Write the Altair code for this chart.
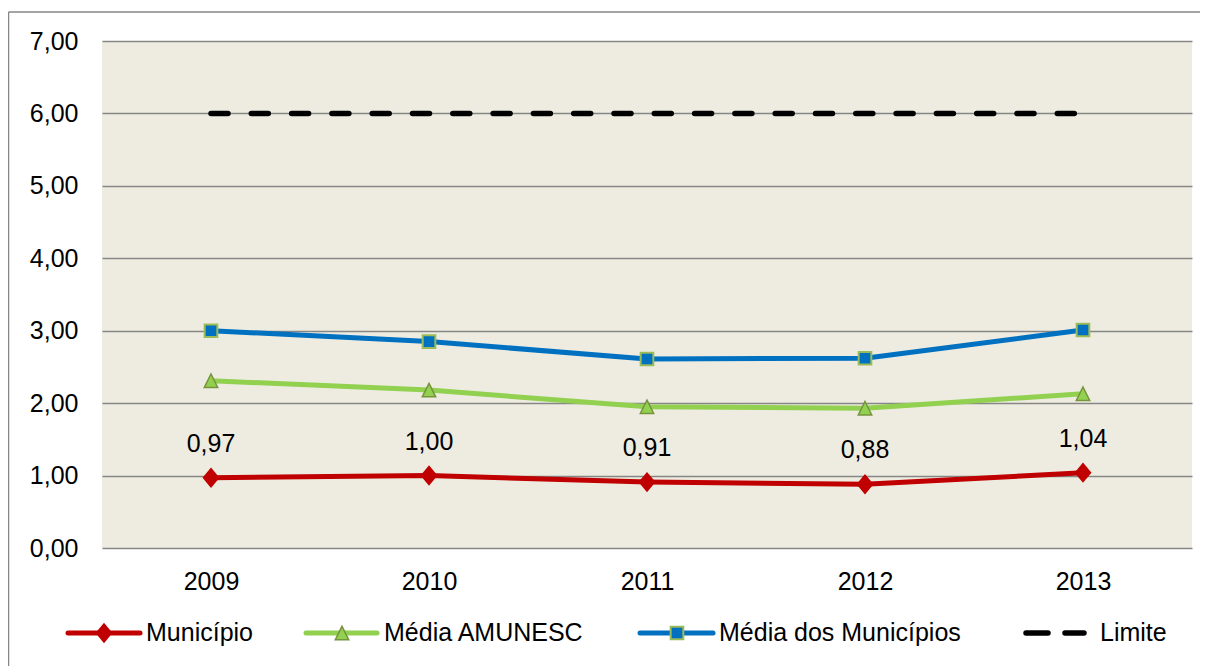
import altair as alt
import pandas as pd

# ---- data ----
years = ["2009", "2010", "2011", "2012", "2013"]
municipio = [0.97, 1.00, 0.91, 0.88, 1.04]
media_amunesc = [2.31, 2.18, 1.95, 1.93, 2.13]
media_municipios = [3.00, 2.85, 2.61, 2.62, 3.01]
limite = [6.00, 6.00, 6.00, 6.00, 6.00]
series_names = ["Município", "Média AMUNESC", "Média dos Municípios", "Limite"]

series_values = [municipio, media_amunesc, media_municipios, limite]
rows = []
for name, vals in zip(series_names, series_values):
    for yr, v in zip(years, vals):
        rows.append({"year": yr, "value": v, "series": name,
                     "label": f"{v:.2f}".replace(".", ",")})
df = pd.DataFrame(rows)

# ---- styling ----
W, H = 1090, 507
FONT = "Liberation Sans"
FS = 25
RED = "#C00000"
GREEN = "#92D050"
GREEN_DARK = "#77933C"
BLUE = "#0070C0"
BLUE_EDGE = "#9BBB59"
GRID = "#868686"
BG = "#EEECE1"
LW = 5

diamond = "M0,-1.2L1,0L0,1.2L-1,0Z"
triangle = "M0,-1L1,1L-1,1Z"

x_enc = alt.X("year:N", sort=years,
              scale=alt.Scale(type="point", padding=0.5),
              axis=alt.Axis(title=None, labelFont=FONT, labelFontSize=FS,
                            labelColor="black", ticks=False, tickSize=0,
                            domain=False, grid=False, labelPadding=33,
                            labelBaseline="middle", labelAngle=0))
y_enc = alt.Y("value:Q", scale=alt.Scale(domain=[0, 7], nice=False),
              axis=alt.Axis(title=None, values=[0, 1, 2, 3, 4, 5, 6, 7],
                            labelExpr="replace(format(datum.value, '.2f'), '.', ',')",
                            labelFont=FONT, labelFontSize=FS, labelColor="black",
                            grid=True, gridColor=GRID, gridWidth=1.5,
                            domain=False, ticks=False, tickSize=0,
                            labelPadding=24))

base = alt.Chart(df).encode(x=x_enc, y=y_enc)

def sel(name):
    return alt.datum.series == name

lim_line = base.transform_filter(sel("Limite")).mark_line(
    color="black", strokeWidth=5.5, strokeDash=[17, 23.3], strokeCap="round")
mun_line = base.transform_filter(sel("Município")).mark_line(color=RED, strokeWidth=LW)
amu_line = base.transform_filter(sel("Média AMUNESC")).mark_line(color=GREEN, strokeWidth=LW)
med_line = base.transform_filter(sel("Média dos Municípios")).mark_line(color=BLUE, strokeWidth=LW)

mun_pts = base.transform_filter(sel("Município")).mark_point(
    shape=diamond, size=289, filled=True, color=RED, opacity=1)
amu_pts = base.transform_filter(sel("Média AMUNESC")).mark_point(
    shape=triangle, size=180, filled=True, fill=GREEN, stroke=GREEN_DARK,
    strokeWidth=1.5, opacity=1)
med_pts = base.transform_filter(sel("Média dos Municípios")).mark_point(
    shape="square", size=160, filled=True, fill=BLUE, stroke=BLUE_EDGE,
    strokeWidth=2, opacity=1)

mun_txt = base.transform_filter(sel("Município")).mark_text(
    font=FONT, fontSize=FS, color="black", baseline="alphabetic", dy=-26
).encode(text="label:N")

# ---- manual legend (layout only) ----
one = pd.DataFrame({"k": [0]})
LY = 592
legend_layers = []
leg_spec = [
    # name, line x0, line x1, marker x, text x
    ("Município", -34, 38, 2, 44),
    ("Média AMUNESC", 204, 275, 240, 282),
    ("Média dos Municípios", 538, 611, 575, 617),
    ("Limite", 921, 985, None, 998),
]
colors = {"Município": RED, "Média AMUNESC": GREEN, "Média dos Municípios": BLUE}
for name, x0, x1, mx, tx in leg_spec:
    if name == "Limite":
        legend_layers.append(alt.Chart(one).mark_rule(
            color="black", strokeWidth=5.5, strokeCap="round").encode(
            x=alt.value(x0 + 3), x2=alt.value(x0 + 25), y=alt.value(LY)))
        legend_layers.append(alt.Chart(one).mark_rule(
            color="black", strokeWidth=5.5, strokeCap="round").encode(
            x=alt.value(x1 - 22), x2=alt.value(x1 - 3), y=alt.value(LY)))
    else:
        legend_layers.append(alt.Chart(one).mark_rule(
            color=colors[name], strokeWidth=LW, strokeCap="round").encode(
            x=alt.value(x0), x2=alt.value(x1), y=alt.value(LY)))
        if name == "Município":
            m = alt.Chart(one).mark_point(shape=diamond, size=289, filled=True,
                                          color=RED, opacity=1)
        elif name == "Média AMUNESC":
            m = alt.Chart(one).mark_point(shape=triangle, size=180, filled=True,
                                          fill=GREEN, stroke=GREEN_DARK,
                                          strokeWidth=1.5, opacity=1)
        else:
            m = alt.Chart(one).mark_point(shape="square", size=160, filled=True,
                                          fill=BLUE, stroke=BLUE_EDGE,
                                          strokeWidth=2, opacity=1)
        legend_layers.append(m.encode(x=alt.value(mx), y=alt.value(LY)))
    legend_layers.append(alt.Chart(one).mark_text(
        font=FONT, fontSize=FS, color="black", align="left", baseline="middle",
        text=name).encode(x=alt.value(tx), y=alt.value(LY)))

# ---- outer chart border (decoration: left and top edges only) ----
border_left = alt.Chart(one).mark_rule(color=GRID, strokeWidth=1.5).encode(
    x=alt.value(-93.5), y=alt.value(-29), y2=alt.value(H + 130))
border_top = alt.Chart(one).mark_rule(color=GRID, strokeWidth=1.5).encode(
    x=alt.value(-93.5), x2=alt.value(W + 30), y=alt.value(-29))

chart = alt.layer(
    lim_line, amu_line, med_line, mun_line,
    amu_pts, med_pts, mun_pts, mun_txt,
    *legend_layers, border_left, border_top
).properties(
    width=W, height=H,
    autosize=alt.AutoSizeParams(type="none"),
    padding={"left": 94, "top": 33, "right": 8, "bottom": 118},
).configure(
    background="white",
    view=alt.ViewConfig(fill=BG, strokeWidth=0),
)

chart.save("out.html", embed_options={"renderer": "svg", "actions": False})
